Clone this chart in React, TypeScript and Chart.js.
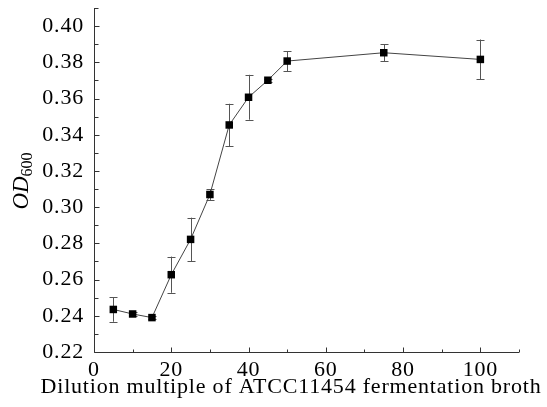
import React, { useEffect, useRef } from "react";
import { Chart, registerables } from "chart.js";

Chart.register(...registerables);

const xValues = [5, 10, 15, 20, 25, 30, 35, 40, 45, 50, 75, 100];
const odValues = [0.2435, 0.241, 0.239, 0.2627, 0.2822, 0.307, 0.3454, 0.3607, 0.3701, 0.3807, 0.3853, 0.3816];
const errValues = [0.0068, 0.0013, 0.001, 0.01, 0.012, 0.003, 0.0117, 0.0124, 0.0008, 0.0055, 0.0046, 0.011];
const xTicks = [0, 20, 40, 60, 80, 100];
const xMinorTicks = [10, 30, 50, 70, 90, 110];
const yTicks = [0.22, 0.24, 0.26, 0.28, 0.3, 0.32, 0.34, 0.36, 0.38, 0.4];
const yMinorTicks = [0.23, 0.25, 0.27, 0.29, 0.31, 0.33, 0.35, 0.37, 0.39, 0.41];
const xTitle = "Dilution multiple of ATCC11454 fermentation broth";
const yTitleMain = "OD";
const yTitleSub = "600";

const FONT = "'Liberation Serif', 'Times New Roman', serif";

const decorPlugin = {
  id: "decor",
  beforeDraw(chart: any) {
    (chart.ctx as any).letterSpacing = "0.8px";
  },
  beforeDatasetsDraw(chart: any) {
    const { ctx } = chart;
    const xs = chart.scales.x;
    const ys = chart.scales.y;
    ctx.save();
    ctx.strokeStyle = "#555";
    ctx.lineWidth = 1;
    xValues.forEach((xv, i) => {
      const px = Math.round(xs.getPixelForValue(xv)) + 0.5;
      const top = ys.getPixelForValue(odValues[i] + errValues[i]);
      const bot = ys.getPixelForValue(odValues[i] - errValues[i]);
      ctx.beginPath();
      ctx.moveTo(px, top);
      ctx.lineTo(px, bot);
      ctx.moveTo(px - 4, Math.round(top) + 0.5);
      ctx.lineTo(px + 4, Math.round(top) + 0.5);
      ctx.moveTo(px - 4, Math.round(bot) + 0.5);
      ctx.lineTo(px + 4, Math.round(bot) + 0.5);
      ctx.stroke();
    });
    ctx.restore();
  },
  afterDraw(chart: any) {
    const { ctx, chartArea } = chart;
    const xs = chart.scales.x;
    const ys = chart.scales.y;
    ctx.save();
    ctx.strokeStyle = "#333";
    ctx.lineWidth = 1;
    const left = Math.round(chartArea.left) + 0.5;
    const bottom = Math.round(chartArea.bottom) + 0.5;
    ctx.beginPath();
    ctx.moveTo(left, chartArea.top);
    ctx.lineTo(left, bottom);
    ctx.lineTo(chartArea.right, bottom);
    xTicks.forEach((v) => {
      const p = Math.round(xs.getPixelForValue(v)) + 0.5;
      ctx.moveTo(p, bottom);
      ctx.lineTo(p, bottom - 5);
    });
    xMinorTicks.forEach((v) => {
      const p = Math.round(xs.getPixelForValue(v)) + 0.5;
      ctx.moveTo(p, bottom);
      ctx.lineTo(p, bottom - 3);
    });
    yTicks.forEach((v) => {
      const p = Math.round(ys.getPixelForValue(v)) + 0.5;
      ctx.moveTo(left, p);
      ctx.lineTo(left + 5, p);
    });
    yMinorTicks.forEach((v) => {
      const p = Math.round(ys.getPixelForValue(v)) + 0.5;
      ctx.moveTo(left, p);
      ctx.lineTo(left + 4, p);
    });
    ctx.stroke();

    // x title
    ctx.fillStyle = "#000";
    (ctx as any).letterSpacing = "0.8px";
    ctx.font = `22px ${FONT}`;
    ctx.textAlign = "center";
    ctx.textBaseline = "alphabetic";
    ctx.fillText(xTitle, 291, 393);

    // y title
    (ctx as any).letterSpacing = "0px";
    ctx.translate(28, 181);
    ctx.rotate(-Math.PI / 2);
    ctx.font = `italic 23px ${FONT}`;
    const w1 = ctx.measureText(yTitleMain).width;
    ctx.font = `16px ${FONT}`;
    const w2 = ctx.measureText(yTitleSub).width;
    const start = -(w1 + w2) / 2;
    ctx.textAlign = "left";
    ctx.font = `italic 23px ${FONT}`;
    ctx.fillText(yTitleMain, start, 0);
    ctx.font = `16px ${FONT}`;
    ctx.fillText(yTitleSub, start + w1, 4);
    ctx.restore();
    (ctx as any).letterSpacing = "0px";
  },
};

export default function App() {
  const ref = useRef<HTMLCanvasElement>(null);
  useEffect(() => {
    if (!ref.current) return;
    const chart = new Chart(ref.current, {
      type: "line",
      data: {
        datasets: [
          {
            data: xValues.map((x, i) => ({ x, y: odValues[i] })),
            borderColor: "#444",
            borderWidth: 1,
            pointStyle: "rect",
            pointRadius: 5.3,
            pointBackgroundColor: "#000",
            pointBorderColor: "#000",
            pointBorderWidth: 0,
            tension: 0,
          },
        ],
      },
      options: {
        responsive: false,
        animation: false,
        events: [],
        layout: { padding: { top: 8, right: 28, left: 0, bottom: 0 } },
        plugins: { legend: { display: false }, tooltip: { enabled: false } },
        scales: {
          x: {
            type: "linear",
            min: 0,
            max: 110,
            afterBuildTicks: (s: any) => {
              s.ticks = xTicks.map((v) => ({ value: v }));
            },
            afterFit: (s: any) => {
              s.height = 55;
              s.paddingLeft = 0;
              s.paddingRight = 0;
            },
            grid: { display: false, drawTicks: false },
            border: { display: false },
            ticks: {
              color: "#000",
              font: { family: FONT, size: 22 },
              padding: 5,
              maxRotation: 0,
              callback: (v: any) => String(v),
            },
          },
          y: {
            type: "linear",
            min: 0.22,
            max: 0.41,
            afterBuildTicks: (s: any) => {
              s.ticks = yTicks.map((v) => ({ value: v }));
            },
            afterFit: (s: any) => {
              s.width = 94;
              s.paddingTop = 0;
              s.paddingBottom = 0;
            },
            grid: { display: false, drawTicks: false },
            border: { display: false },
            ticks: {
              color: "#000",
              font: { family: FONT, size: 22 },
              padding: 10,
              callback: (v: any) => Number(v).toFixed(2),
            },
          },
        },
      },
      plugins: [decorPlugin],
    });
    return () => chart.destroy();
  }, []);
  return (
    <div style={{ position: "absolute", left: 0, top: 0, width: 547, height: 407, background: "#fff" }}>
      <canvas ref={ref} width={547} height={407} />
    </div>
  );
}
